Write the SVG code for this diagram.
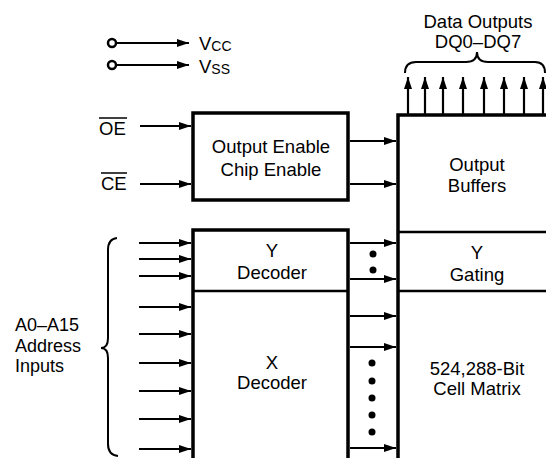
<svg xmlns="http://www.w3.org/2000/svg" width="546" height="458" viewBox="0 0 546 458">
<defs>
<marker id="ah" markerUnits="userSpaceOnUse" markerWidth="13" markerHeight="9" refX="12" refY="4.5" orient="auto">
<path d="M0,0.5 L12,4.5 L0,8.5 z" fill="#000"/>
</marker>
<style>
text{font-family:"Liberation Sans",Arial,sans-serif;font-size:18.5px;fill:#000}
.c{text-anchor:middle}
.a{font-size:18px}
.box{fill:none;stroke:#000;stroke-width:3.5}
.ln{stroke:#000;stroke-width:2.5;fill:none}
.ar{stroke:#000;stroke-width:2.2;fill:none;marker-end:url(#ah)}
.br{stroke:#000;stroke-width:2;fill:none}
</style>
</defs>
<rect width="546" height="458" fill="#fff"/>

<g id="power">
<circle cx="112" cy="43" r="4" fill="#fff" stroke="#000" stroke-width="2.5"/>
<circle cx="112" cy="65" r="4" fill="#fff" stroke="#000" stroke-width="2.5"/>
<text x="199" y="50">V<tspan font-size="14" dy="1">CC</tspan></text>
<text x="199" y="73">V<tspan font-size="14" dy="1">SS</tspan></text>
</g>

<g id="data-outputs">
<text class="c" x="478" y="28">Data Outputs</text>
<text class="c" x="478" y="48">DQ0–DQ7</text>
<path class="br" d="M405,73 Q405,62 416,62 L466,62 Q477,62 477,52 Q477,62 488,62 L535,62 Q545,62 545,73"/>
</g>

<g id="oe-ce-labels">
<text x="99" y="135">OE</text>
<line x1="99" y1="118" x2="127" y2="118" stroke="#000" stroke-width="1.5"/>
<text x="101" y="190">CE</text>
<line x1="101" y1="173" x2="127" y2="173" stroke="#000" stroke-width="1.5"/>
</g>

<g id="address-label">
<text class="a" x="15" y="331">A0–A15</text>
<text class="a" x="15" y="351.5">Address</text>
<text class="a" x="15" y="372">Inputs</text>
<path class="br" d="M117,238 Q108,239 108,250 L108,338 Q108,348 101,348 Q108,348 108,358 L108,444 Q108,455 118,456"/>
</g>

<g id="output-enable">
<rect class="box" x="193" y="113" width="155" height="87"/>
<text class="c" x="271" y="153">Output Enable</text>
<text class="c" x="271" y="176">Chip Enable</text>
</g>

<g id="decoder">
<rect class="box" x="193" y="230" width="155" height="245"/>
<line class="ln" x1="193" y1="291" x2="348" y2="291"/>
<text class="c" x="272" y="257">Y</text>
<text class="c" x="272" y="279">Decoder</text>
<text class="c" x="272" y="369">X</text>
<text class="c" x="272" y="389">Decoder</text>
</g>

<g id="memory-block">
<path class="box" d="M398,470 L398,115 L560,115"/>
<line class="ln" x1="398" y1="232" x2="550" y2="232"/>
<line class="ln" x1="398" y1="291" x2="550" y2="291"/>
<text class="c" x="477" y="171">Output</text>
<text class="c" x="477" y="192">Buffers</text>
<text class="c" x="477" y="259">Y</text>
<text class="c" x="477" y="281">Gating</text>
<text class="c" x="477" y="375">524,288-Bit</text>
<text class="c" x="477" y="395">Cell Matrix</text>
</g>

<g id="dots" fill="#000">
<circle cx="373" cy="254" r="3.5"/>
<circle cx="373" cy="270" r="3.5"/>
<circle cx="372" cy="363" r="3.5"/>
<circle cx="372" cy="381" r="3.5"/>
<circle cx="372" cy="398" r="3.5"/>
<circle cx="372" cy="415" r="3.5"/>
<circle cx="372" cy="432" r="3.5"/>
</g>

<g id="connectors">
<line class="ar" x1="116" y1="43" x2="189" y2="43"/>
<line class="ar" x1="116" y1="65" x2="189" y2="65"/>
<line class="ar" x1="140" y1="126" x2="191" y2="126"/>
<line class="ar" x1="140" y1="184" x2="191" y2="184"/>
<line class="ar" x1="350" y1="141" x2="396" y2="141"/>
<line class="ar" x1="350" y1="184" x2="396" y2="184"/>
<line class="ar" x1="139" y1="243" x2="191" y2="243"/>
<line class="ar" x1="139" y1="259" x2="191" y2="259"/>
<line class="ar" x1="139" y1="276" x2="191" y2="276"/>
<line class="ar" x1="139" y1="307" x2="191" y2="307"/>
<line class="ar" x1="139" y1="334" x2="191" y2="334"/>
<line class="ar" x1="139" y1="363" x2="191" y2="363"/>
<line class="ar" x1="139" y1="391" x2="191" y2="391"/>
<line class="ar" x1="139" y1="419" x2="191" y2="419"/>
<line class="ar" x1="139" y1="449" x2="191" y2="449"/>
<line class="ar" x1="350" y1="243" x2="396" y2="243"/>
<line class="ar" x1="350" y1="279" x2="396" y2="279"/>
<line class="ar" x1="350" y1="316" x2="396" y2="316"/>
<line class="ar" x1="350" y1="347" x2="396" y2="347"/>
<line class="ar" x1="350" y1="448" x2="396" y2="448"/>
<line class="ar" x1="408" y1="115" x2="408" y2="77"/>
<line class="ar" x1="425" y1="115" x2="425" y2="77"/>
<line class="ar" x1="443" y1="115" x2="443" y2="77"/>
<line class="ar" x1="463" y1="115" x2="463" y2="77"/>
<line class="ar" x1="484" y1="115" x2="484" y2="77"/>
<line class="ar" x1="504" y1="115" x2="504" y2="77"/>
<line class="ar" x1="524" y1="115" x2="524" y2="77"/>
<line class="ar" x1="543" y1="115" x2="543" y2="77"/>
</g>
</svg>
